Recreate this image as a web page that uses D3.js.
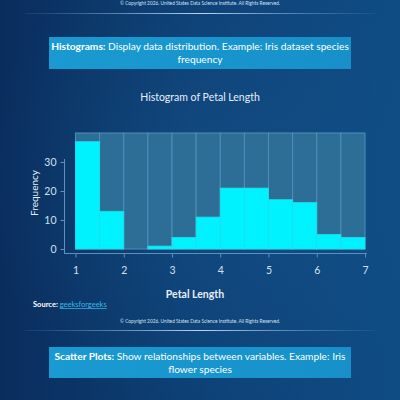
<!DOCTYPE html>
<html>
<head>
<meta charset="utf-8">
<script src="https://cdn.jsdelivr.net/npm/d3@7"></script>
<style>
  html, body { margin: 0; padding: 0; background: #0c3c70; }
  svg { display: block; }
</style>
</head>
<body>
<script>
// histogram data (petal length, bins of 0.5)
const binStarts = [1, 1.5, 2, 2.5, 3, 3.5, 4, 4.5, 5, 5.5, 6, 6.5];
const binEnds = [1.5, 2, 2.5, 3, 3.5, 4, 4.5, 5, 5.5, 6, 6.5, 7];
const counts = [37, 13, 0, 1, 4, 11, 21, 21, 17, 16, 5, 4];
const xTicks = [1, 2, 3, 4, 5, 6, 7];
const yTicks = [0, 10, 20, 30];
const ghostValue = 40;

const W = 400, H = 400;
const font = "Lato, 'Noto Sans', sans-serif";
const copyright = "© Copyright 2026. United States Data Science Institute. All Rights Reserved.";

const svg = d3.select("body").append("svg")
  .attr("width", W)
  .attr("height", H);

const defs = svg.append("defs");

// 背景グラデーション
const bg = defs.append("linearGradient").attr("id", "bg")
  .attr("x1", "0").attr("y1", "0").attr("x2", "1").attr("y2", "0");
bg.append("stop").attr("offset", "0%").attr("stop-color", "#0a2d5d");
bg.append("stop").attr("offset", "45%").attr("stop-color", "#0d3f74");
bg.append("stop").attr("offset", "100%").attr("stop-color", "#0f4c84");

const glow = defs.append("radialGradient").attr("id", "glow")
  .attr("cx", "0.55").attr("cy", "0.45").attr("r", "0.6");
glow.append("stop").attr("offset", "0%").attr("stop-color", "#1a5c94").attr("stop-opacity", 0.35);
glow.append("stop").attr("offset", "100%").attr("stop-color", "#1a5c94").attr("stop-opacity", 0);

const rule = defs.append("linearGradient").attr("id", "rule")
  .attr("x1", "0").attr("y1", "0").attr("x2", "1").attr("y2", "0");
rule.append("stop").attr("offset", "0%").attr("stop-color", "#6fa8d8").attr("stop-opacity", 0.1);
rule.append("stop").attr("offset", "50%").attr("stop-color", "#cfe6ff").attr("stop-opacity", 0.9);
rule.append("stop").attr("offset", "100%").attr("stop-color", "#6fa8d8").attr("stop-opacity", 0.1);

const boxGrad = defs.append("linearGradient").attr("id", "box")
  .attr("x1", "0").attr("y1", "0").attr("x2", "1").attr("y2", "0");
boxGrad.append("stop").attr("offset", "0%").attr("stop-color", "#1a9ad2");
boxGrad.append("stop").attr("offset", "100%").attr("stop-color", "#1790c9");

svg.append("rect").attr("width", W).attr("height", H).attr("fill", "url(#bg)");
svg.append("rect").attr("width", W).attr("height", H).attr("fill", "url(#glow)");

// 上下の著作権表示と区切り線
function footer(y, lineY) {
  svg.append("text")
    .attr("x", 200).attr("y", y)
    .attr("text-anchor", "middle")
    .attr("font-family", font).attr("font-size", 4.8)
    .attr("fill", "#d4e2f2")
    .text(copyright);
  svg.append("rect")
    .attr("x", 25).attr("y", lineY).attr("width", 350).attr("height", 1)
    .attr("fill", "url(#rule)");
}
footer(4.5, 13);
footer(323, 330);

// 説明ボックス
function infoBox(y, h, bold, line1, line2) {
  svg.append("rect")
    .attr("x", 49).attr("y", y).attr("width", 302).attr("height", h)
    .attr("fill", "url(#box)");
  const t = svg.append("text")
    .attr("x", 200).attr("y", y + 13)
    .attr("text-anchor", "middle")
    .attr("font-family", font).attr("font-size", 10.2)
    .attr("fill", "#ffffff");
  t.append("tspan").attr("font-weight", "bold").text(bold);
  t.append("tspan").text(" " + line1);
  svg.append("text")
    .attr("x", 200).attr("y", y + 26)
    .attr("text-anchor", "middle")
    .attr("font-family", font).attr("font-size", 10.2)
    .attr("fill", "#ffffff")
    .text(line2);
}
infoBox(37, 32, "Histograms:", "Display data distribution. Example: Iris dataset species", "frequency");
infoBox(347, 31, "Scatter Plots:", "Show relationships between variables. Example: Iris", "flower species");

// タイトル
svg.append("text")
  .attr("x", 200).attr("y", 101)
  .attr("text-anchor", "middle")
  .attr("font-family", font).attr("font-size", 10.5)
  .attr("fill", "#e6eef8")
  .text("Histogram of Petal Length");

// スケール
const x = d3.scaleLinear().domain([1, 7]).range([75.5, 365]);
const y = d3.scaleLinear().domain([0, ghostValue]).range([249, 133]);

const bins = counts.map((c, i) => ({ x0: binStarts[i], x1: binEnds[i], count: c }));

// 背景の柱
svg.append("g").selectAll("rect")
  .data(bins)
  .join("rect")
  .attr("x", (d) => x(d.x0))
  .attr("y", y(ghostValue))
  .attr("width", (d) => x(d.x1) - x(d.x0))
  .attr("height", y(0) - y(ghostValue))
  .attr("fill", "#2d6e97")
  .attr("stroke", "#4d8fb8")
  .attr("stroke-width", 1);

// 度数の柱
svg.append("g").selectAll("rect")
  .data(bins)
  .join("rect")
  .attr("x", (d) => x(d.x0))
  .attr("y", (d) => y(d.count))
  .attr("width", (d) => x(d.x1) - x(d.x0))
  .attr("height", (d) => y(0) - y(d.count))
  .attr("fill", "#00f2ff")
  .attr("stroke", "#22dceb")
  .attr("stroke-width", 0.8);

// 軸
const axisColor = "#5d8fbf";
const xAxis = svg.append("g")
  .attr("transform", "translate(0,253.5)")
  .call(d3.axisBottom(x).tickValues(xTicks).tickFormat(d3.format("d"))
    .tickSize(4).tickSizeOuter(0).tickPadding(9));
xAxis.select(".domain").attr("d", `M64,0H${x(7) + 2}`);

const yAxis = svg.append("g")
  .attr("transform", "translate(64.5,0)")
  .call(d3.axisLeft(y).tickValues(yTicks).tickFormat(d3.format("d"))
    .tickSize(4).tickSizeOuter(0).tickPadding(4));
yAxis.select(".domain").attr("d", "M0,159V253.5");

[xAxis, yAxis].forEach((g) => {
  g.select(".domain").attr("stroke", axisColor);
  g.selectAll(".tick line").attr("stroke", axisColor);
  g.selectAll(".tick text")
    .attr("fill", "#cfe0f2")
    .attr("font-family", font)
    .attr("font-size", 10.5);
});

svg.append("text")
  .attr("transform", "translate(38,193) rotate(-90)")
  .attr("text-anchor", "middle")
  .attr("font-family", font).attr("font-size", 10)
  .attr("fill", "#e6eef8")
  .text("Frequency");

svg.append("text")
  .attr("x", 195).attr("y", 298)
  .attr("text-anchor", "middle")
  .attr("font-family", font).attr("font-size", 10.5).attr("font-weight", "bold")
  .attr("fill", "#e6eef8")
  .text("Petal Length");

// 出典
const src = svg.append("text")
  .attr("x", 33).attr("y", 307)
  .attr("font-family", font).attr("font-size", 7.5);
src.append("tspan").attr("fill", "#ffffff").attr("font-weight", "bold").text("Source: ");
src.append("tspan").attr("fill", "#33b9e6").attr("text-decoration", "underline").text("geeksforgeeks");
</script>
</body>
</html>
